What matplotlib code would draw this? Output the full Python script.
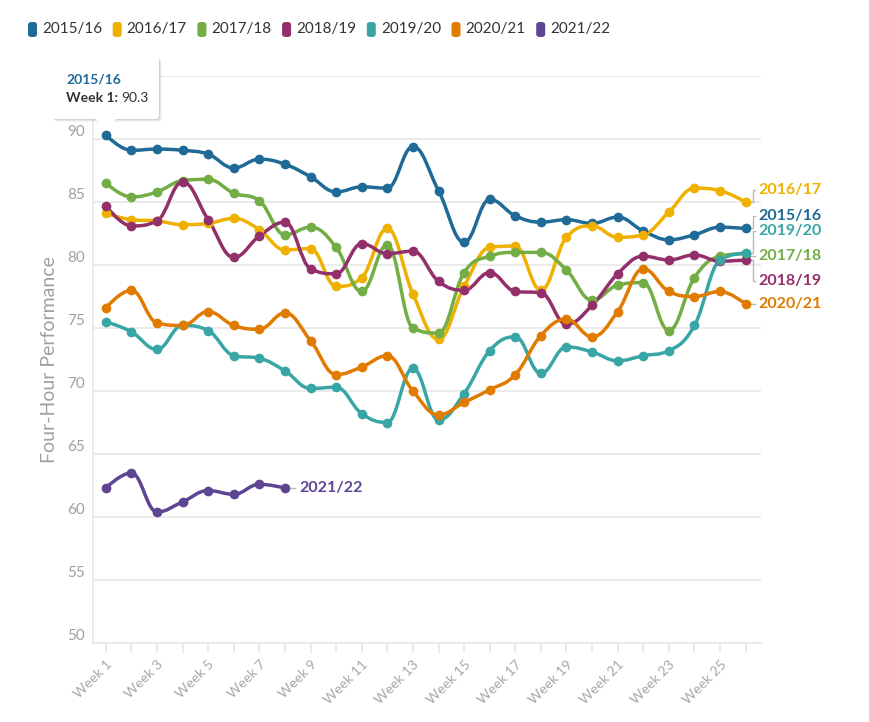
import matplotlib
matplotlib.use("Agg")
import matplotlib.pyplot as plt
from matplotlib.path import Path
from matplotlib.patches import PathPatch, FancyBboxPatch, Polygon

plt.rcParams['font.family'] = ['Lato', 'DejaVu Sans']

# Data: four-hour performance by week
weeks = list(range(1, 27))
week_labels = [f"Week {w}" if w % 2 == 1 else "" for w in weeks]
y_ticks = list(range(50, 96, 5))
# the 95 label sits under the tooltip in the original
y_tick_labels = [str(v) if v < 95 else "" for v in y_ticks]

perf_1516 = [90.3, 89.1, 89.2, 89.1, 88.8, 87.7, 88.4, 88.0, 87.0, 85.8, 86.2, 86.1, 89.4,
             85.9, 81.8, 85.2, 83.9, 83.4, 83.6, 83.3, 83.8, 82.7, 82.0, 82.4, 83.0, 82.9]
perf_1617 = [84.1, 83.6, 83.5, 83.2, 83.3, 83.7, 82.8, 81.2, 81.3, 78.3, 79.0, 82.9, 77.7,
             74.1, 78.3, 81.4, 81.5, 78.0, 82.2, 83.1, 82.2, 82.4, 84.2, 86.1, 85.9, 85.0]
perf_1718 = [86.5, 85.4, 85.8, 86.7, 86.8, 85.7, 85.1, 82.4, 83.0, 81.4, 77.9, 81.6, 75.0,
             74.6, 79.4, 80.7, 81.0, 81.0, 79.6, 77.2, 78.4, 78.6, 74.8, 79.0, 80.7, 80.9]
perf_1819 = [84.7, 83.1, 83.5, 86.6, 83.6, 80.6, 82.3, 83.4, 79.7, 79.3, 81.7, 80.9, 81.1,
             78.7, 78.0, 79.4, 77.9, 77.8, 75.3, 76.8, 79.3, 80.7, 80.4, 80.8, 80.3, 80.4]
perf_1920 = [75.5, 74.7, 73.3, 75.2, 74.8, 72.8, 72.6, 71.6, 70.2, 70.3, 68.2, 67.5, 71.8,
             67.7, 69.8, 73.2, 74.3, 71.4, 73.5, 73.1, 72.4, 72.8, 73.2, 75.2, 80.4, 80.95]
perf_2021 = [76.6, 78.0, 75.4, 75.2, 76.3, 75.2, 74.9, 76.2, 74.0, 71.3, 71.9, 72.8, 70.0,
             68.1, 69.1, 70.1, 71.3, 74.4, 75.7, 74.3, 76.3, 79.7, 77.9, 77.5, 77.9, 76.9]
perf_2122 = [62.3, 63.5, 60.4, 61.2, 62.1, 61.8, 62.6, 62.3]

seasons = ["2015/16", "2016/17", "2017/18", "2018/19", "2019/20", "2020/21", "2021/22"]
series = [perf_1516, perf_1617, perf_1718, perf_1819, perf_1920, perf_2021, perf_2122]
colors = ["#1f6a96", "#f0b000", "#72ad45", "#93306b", "#38a6a5", "#e07b00", "#5e4594"]

# right-hand label y positions (data units) for the full-length series
label_y = {"2016/17": 85.95, "2015/16": 83.9, "2019/20": 82.7,
           "2017/18": 80.7, "2018/19": 78.7, "2020/21": 76.9}


def spline_path(xs, ys, smoothing=1.5):
    # Highcharts-style spline
    n = len(xs)
    left = [None] * n
    right = [None] * n
    d = smoothing + 1
    for i in range(1, n - 1):
        x, y = xs[i], ys[i]
        lx, ly = xs[i - 1], ys[i - 1]
        nx, ny = xs[i + 1], ys[i + 1]
        lcx = (smoothing * x + lx) / d
        lcy = (smoothing * y + ly) / d
        rcx = (smoothing * x + nx) / d
        rcy = (smoothing * y + ny) / d
        corr = (rcy - lcy) * (rcx - x) / (rcx - lcx) + y - rcy
        lcy += corr
        rcy += corr
        if lcy > ly and lcy > y:
            lcy = max(ly, y); rcy = 2 * y - lcy
        elif lcy < ly and lcy < y:
            lcy = min(ly, y); rcy = 2 * y - lcy
        if rcy > ny and rcy > y:
            rcy = max(ny, y); lcy = 2 * y - rcy
        elif rcy < ny and rcy < y:
            rcy = min(ny, y); lcy = 2 * y - rcy
        left[i] = (lcx, lcy)
        right[i] = (rcx, rcy)
    verts = [(xs[0], ys[0])]
    codes = [Path.MOVETO]
    for i in range(1, n):
        p0 = right[i - 1] or (xs[i - 1], ys[i - 1])
        p1 = left[i] or (xs[i], ys[i])
        verts += [p0, p1, (xs[i], ys[i])]
        codes += [Path.CURVE4] * 3
    return Path(verts, codes)


W, H = 869, 722
fig = plt.figure(figsize=(W / 100, H / 100), dpi=100)
ax = fig.add_axes([93 / W, (H - 643) / H, (761 - 93) / W, (643 - 76) / H])

grid_c = "#e8e8e8"
for s in ["top", "right"]:
    ax.spines[s].set_visible(False)
ax.spines["left"].set_color(grid_c)
ax.spines["bottom"].set_color(grid_c)
ax.spines["left"].set_linewidth(1.2)
ax.spines["bottom"].set_linewidth(1.2)

ax.set_xlim(0.5, 26.6)
ax.set_ylim(50, 95)
ax.set_yticks(y_ticks)
ax.set_yticklabels(y_tick_labels)
ax.yaxis.grid(True, color=grid_c, linewidth=1.2)
ax.set_axisbelow(True)
ax.tick_params(axis="y", length=0, pad=6, labelsize=11, labelcolor="#a0a0a0")
for lbl in ax.get_yticklabels():
    lbl.set_va("bottom")

ax.set_xticks(weeks)
ax.set_xticklabels(week_labels, rotation=45, ha="right", va="top",
                   rotation_mode="anchor", fontsize=10, color="#a8a8a8")
ax.tick_params(axis="x", length=7, color=grid_c, width=1.2, pad=4)

for name, vals, c in zip(seasons, series, colors):
    xs = weeks[:len(vals)]
    ax.add_patch(PathPatch(spline_path(xs, vals), facecolor="none",
                           edgecolor=c, linewidth=2.5, capstyle="round",
                           joinstyle="round", zorder=3))
    ax.plot(xs, vals, "o", color=c, markersize=7, markeredgewidth=0, zorder=4)

# right-hand series labels with connectors
conn_c = "#b8b8b8"
for name, vals, c in zip(seasons, series, colors):
    if name not in label_y:
        continue
    ly = label_y[name]
    py = vals[-1]
    xe = weeks[len(vals) - 1]
    if abs(ly - py) > 0.4:
        ax.plot([xe + 0.18, xe + 0.28, xe + 0.28, xe + 0.38], [py, py, ly, ly],
                color=conn_c, linewidth=1, clip_on=False, zorder=2)
    else:
        ax.plot([xe + 0.22, xe + 0.38], [ly, ly], color=conn_c,
                linewidth=1, clip_on=False, zorder=2)
    ax.text(xe + 0.5, ly, name, color=c, fontsize=11.5, fontweight="bold",
            va="center", ha="left", clip_on=False)

# label for the partial season
xe = len(perf_2122)
ax.plot([xe + 0.22, xe + 0.38], [perf_2122[-1]] * 2, color=conn_c, linewidth=1)
ax.text(xe + 0.55, perf_2122[-1], "2021/22", color=colors[-1], fontsize=11.5,
        fontweight="bold", va="center", ha="left")

fig.text(50 / W, 1 - 360 / H, "Four-Hour Performance", rotation=90,
         ha="center", va="center", fontsize=14, color="#a0a0a0")

# legend
lx0 = 28
for i, (name, c) in enumerate(zip(seasons, colors)):
    x = lx0 + i * 84.7
    fig.patches.append(FancyBboxPatch((x / W, 1 - 37 / H), 9 / W, 15 / H,
                                      boxstyle="round,pad=0,rounding_size=0.004",
                                      transform=fig.transFigure, facecolor=c,
                                      edgecolor="none"))
    fig.text((x + 14) / W, 1 - 29 / H, name, fontsize=11, color="#333333",
             ha="left", va="center")

# tooltip on Week 1 of 2015/16
px, py = ax.transData.transform((weeks[0], perf_1516[0]))
py_top = H - py
for off, a in [(3, 0.04), (2, 0.06), (1, 0.08)]:
    fig.patches.append(FancyBboxPatch(((52 + off) / W, 1 - (119 + off) / H), 107 / W, 62 / H,
                                      boxstyle="round,pad=0,rounding_size=0.004",
                                      transform=fig.transFigure, facecolor="black",
                                      edgecolor="none", alpha=a))
fig.patches.append(Polygon([((px - 11) / W, 1 - 118 / H), ((px + 11) / W, 1 - 118 / H),
                            (px / W, 1 - (py_top - 5) / H)],
                           closed=True, transform=fig.transFigure,
                           facecolor="white", edgecolor="none", zorder=6))
fig.patches.append(FancyBboxPatch((52 / W, 1 - 119 / H), 107 / W, 62 / H,
                                  boxstyle="round,pad=0,rounding_size=0.004",
                                  transform=fig.transFigure, facecolor="white",
                                  edgecolor="none", zorder=6))
fig.text(66 / W, 1 - 79 / H, "2015/16", fontsize=10, fontweight="bold",
         color=colors[0], ha="left", va="center", zorder=7)
t = fig.text(66 / W, 1 - 98 / H, "Week 1:", fontsize=10, fontweight="bold",
             color="#333333", ha="left", va="center", zorder=7)
fig.canvas.draw()
bb = t.get_window_extent()
fig.text((bb.x1 + 3) / W, 1 - 98 / H, "90.3", fontsize=10, color="#333333",
         ha="left", va="center", zorder=7)

fig.savefig("out.png", dpi=100)
